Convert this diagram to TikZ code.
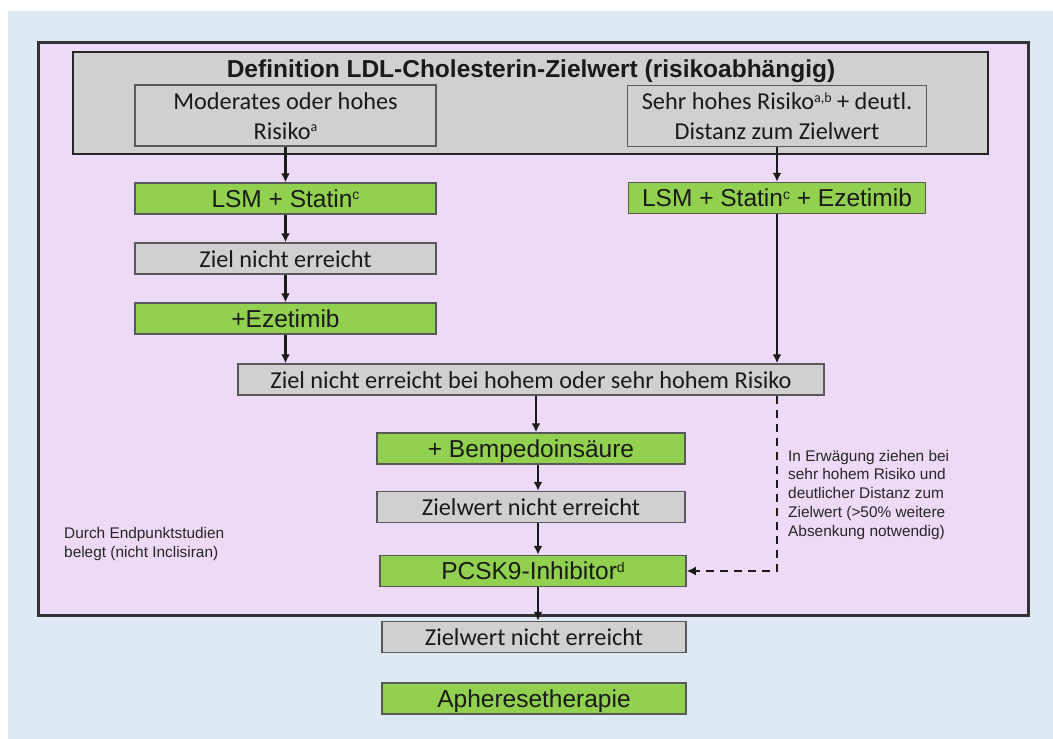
\documentclass[tikz,border=0pt]{standalone}
\usepackage{fontspec}
\setmainfont{Liberation Sans}
\newfontfamily\calibri{Carlito}
\usetikzlibrary{arrows.meta}

\definecolor{bgblue}{RGB}{223,233,243}
\definecolor{lavender}{RGB}{237,218,247}
\definecolor{boxgray}{RGB}{208,208,208}
\definecolor{boxgreen}{RGB}{146,208,80}
\definecolor{inkdark}{RGB}{26,26,26}

\newcommand\supmark[1]{\raisebox{7.5pt}{\fontsize{14}{14}\selectfont #1}}

\begin{document}
\begin{tikzpicture}[x=1pt, y=-1pt,
  every node/.style={inner sep=0pt, text=inkdark},
  flowbox/.style={draw=black!65, line width=1.5pt, minimum height=31pt,
    text height=17pt, text depth=0pt},
  graybox/.style={flowbox, fill=boxgray, font=\calibri\fontsize{24.3}{30}\selectfont},
  greenbox/.style={flowbox, fill=boxgreen, font=\fontsize{24.5}{28}\selectfont},
  twoline/.style={graybox, minimum height=61pt, align=center,
    text height=47pt, text depth=0pt},
  flow/.style={-{Latex[length=9pt,width=9pt]}, line width=2.3pt, draw=inkdark},
  note/.style={align=left, font=\fontsize{15.4}{18.75}\selectfont, text=black!85}]

  \useasboundingbox (0,0) rectangle (1053,739); %% positioning
  \fill[white] (0,0) rectangle (1053,739);
  \fill[bgblue] (8,11) rectangle (1053,739);
  \draw[fill=lavender, line width=3pt, draw=black!80] (38,42) rectangle (1028,615);

  %% header
  \node[draw=black!85, line width=2.8pt, fill=boxgray,
    minimum width=915pt, minimum height=102pt] (hdr) at (530.5,103) {};
  \node[anchor=base, font=\bfseries\fontsize{24.5}{28}\selectfont] (title)
    at (531,77) {Definition LDL-Cholesterin-Zielwert (risikoabhängig)};
  \node[twoline, minimum width=301pt] (lsub) at (285.5,115.5)
    {Moderates oder hohes\\Risiko\supmark{a}};
  \node[twoline, minimum width=299pt] (rsub) at (777,116)
    {Sehr hohes Risiko\supmark{a,b} + deutl.\\Distanz zum Zielwert};

  %% left column
  \node[greenbox, minimum width=301pt] (llsm) at (285.5,198.5) {LSM + Statin\supmark{c}};
  \node[graybox, minimum width=301pt] (lziel) at (285.5,258.5) {Ziel nicht erreicht};
  \node[greenbox, minimum width=301pt] (lezet) at (285.5,318.5) {+Ezetimib};

  %% right column
  \node[greenbox, minimum width=297pt] (rlsm) at (777,198)
    {LSM + Statin\supmark{c} + Ezetimib};

  %% middle column
  \node[graybox, minimum width=586pt] (zielrisk) at (531,379.5)
    {Ziel nicht erreicht bei hohem oder sehr hohem Risiko};
  \node[greenbox, minimum width=308pt] (bemp) at (531,448.5) {+ Bempedoinsäure};
  \node[graybox, minimum width=308pt] (zwA) at (531,507) {Zielwert nicht erreicht};
  \node[greenbox, minimum width=306pt] (pcsk) at (533,571) {PCSK9-Inhibitor\supmark{d}};
  \node[graybox, minimum width=304pt] (zwB) at (534,637) {Zielwert nicht erreicht};
  \node[greenbox, minimum width=304pt] (apher) at (534,698.5) {Apheresetherapie};

  %% notes
  \node[note, anchor=base west] (evidence) at (64,557)
    {Durch Endpunktstudien\\belegt (nicht Inclisiran)};
  \node[note, anchor=base west] (consider) at (788,536)
    {In Erwägung ziehen bei\\sehr hohem Risiko und\\deutlicher Distanz zum\\Zielwert (>50\% weitere\\Absenkung notwendig)};

  %% arrows
  \draw[flow] (lsub.south) -- (llsm.north);
  \draw[flow] (llsm.south) -- (lziel.north);
  \draw[flow] (lziel.south) -- (lezet.north);
  \draw[flow] (lezet.south) -- (lezet.south |- zielrisk.north);
  \draw[flow] (rsub.south) -- (rlsm.north);
  \draw[flow] (rlsm.south) -- (rlsm.south |- zielrisk.north);
  \draw[flow] ([xshift=5pt]zielrisk.south) -- ([xshift=5pt]zielrisk.south |- bemp.north);
  \draw[flow] ([xshift=7pt]bemp.south) -- ([xshift=7pt]bemp.south |- zwA.north);
  \draw[flow] ([xshift=7pt]zwA.south) -- ([xshift=7pt]zwA.south |- pcsk.north);
  \draw[flow] ([xshift=5pt]pcsk.south) -- ([xshift=4pt]zwB.north);
  \draw[flow, dash pattern=on 8pt off 6pt]
    (rlsm.south |- zielrisk.south) |- (pcsk.east);

\end{tikzpicture}
\end{document}
